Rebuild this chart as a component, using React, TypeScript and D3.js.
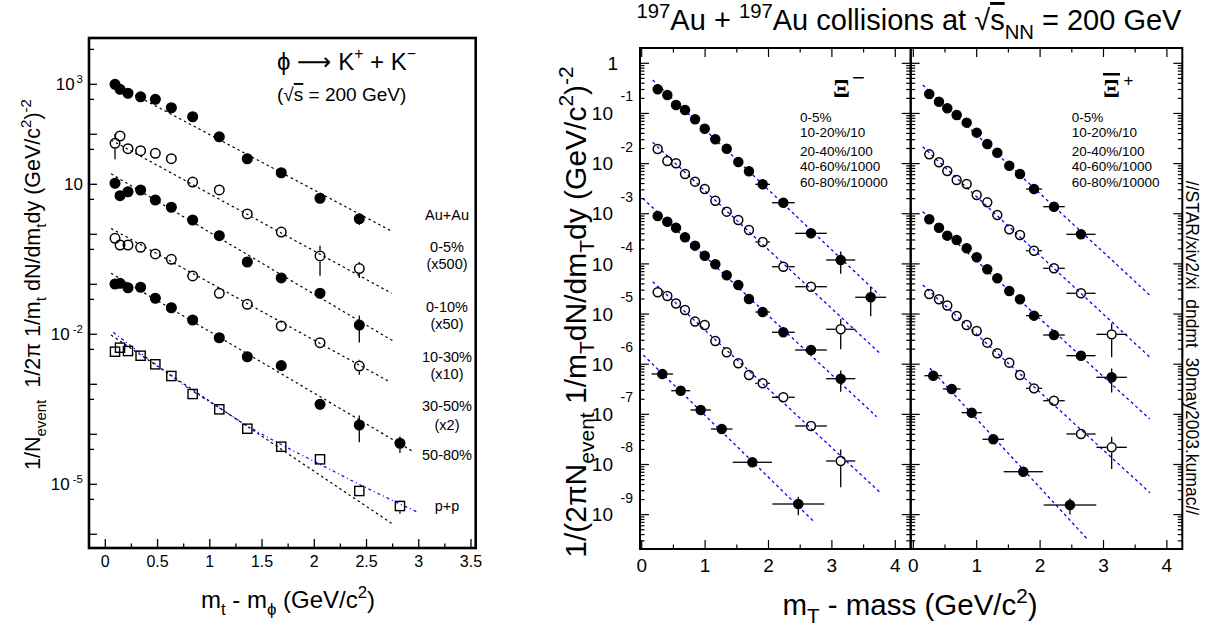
import React from 'react';
import * as d3 from 'd3';

const FONT = "'Liberation Sans', Arial, Helvetica, sans-serif";

// ---------- phi -> K+ K- : mt - m_phi spectra ----------
const phiMt = [0.093, 0.141, 0.217, 0.338, 0.479, 0.632, 0.836, 1.091, 1.359, 1.684, 2.055, 2.431, 2.82];
// Au+Au 0-5% (x500)
const phi0005 = [1000, 794, 661, 562, 501, 339, 224, 89.1, 32.4, 17.0, 5.25, 2.04];
const phi0005Err = [0.03, 0.03, 0.03, 0.03, 0.03, 0.04, 0.04, 0.06, 0.08, 0.1, 0.12, 0.25];
// Au+Au 0-10% (x50)
const phi0010 = [66.1, 92.5, 51.6, 47.1, 41.7, 32.6, 11.1, 7.71, 2.55, 1.11, 0.369, 0.206];
const phi0010Err = [0.52, 0.1, 0.06, 0.05, 0.05, 0.05, 0.06, 0.08, 0.1, 0.15, 0.6, 0.35];
// Au+Au 10-30% (x10)
const phi1030 = [10.5, 5.92, 7.11, 7.69, 4.85, 3.47, 1.93, 0.938, 0.279, 0.134, 0.0661, 0.0153];
const phi1030Err = [0.08, 0.06, 0.05, 0.05, 0.05, 0.05, 0.06, 0.08, 0.1, 0.12, 0.15, 0.55];
// Au+Au 30-50% (x2)
const phi3050 = [0.832, 0.611, 0.611, 0.55, 0.404, 0.316, 0.147, 0.0661, 0.0398, 0.01466, 0.00679, 0.00232];
const phi3050Err = [0.08, 0.06, 0.05, 0.05, 0.05, 0.05, 0.06, 0.08, 0.1, 0.12, 0.15, 0.33];
// Au+Au 50-80%
const phi5080 = [0.1014, 0.1047, 0.0855, 0.0871, 0.0525, 0.034, 0.0193, 0.00855, 0.00356, 0.00236, 0.000398, 0.0001535, 0.0000661];
const phi5080Err = [0.12, 0.06, 0.05, 0.05, 0.05, 0.05, 0.06, 0.08, 0.1, 0.12, 0.23, 0.55, 0.36];
// p+p
const phiPP = [0.00449, 0.0054, 0.00463, 0.00373, 0.00251, 0.001466, 0.00064, 0.000316, 0.0001294, 0.0000565, 0.0000316, 0.00000735, 0.00000368];
const phiPPErr = [0.05, 0.05, 0.05, 0.05, 0.05, 0.05, 0.06, 0.08, 0.1, 0.2, 0.12, 0.12, 0.3];

// exponential fits, [mt - m, yield] end points
const phiFit0005 = [[0.055, 1100], [2.75, 1.127]];
const phiFit0010 = [[0.055, 76.9], [2.74, 0.0661]];
const phiFit1030 = [[0.055, 16.2], [2.75, 0.00745]];
const phiFit3050 = [[0.055, 1.31], [2.72, 0.001127]];
const phiFit5080 = [[0.055, 0.166], [2.95, 0.0000447]];
const phiFitPP = [[0.055, 0.00968], [2.74, 0.00000166]];
// p+p power-law fit, sampled
const phiPowPP = [
  [0.077, 0.01096], [0.48, 0.00251], [0.84, 0.000724], [1.09, 0.000339], [1.36, 0.0001479],
  [1.68, 0.0000631], [2.055, 0.0000251], [2.43, 0.00001], [2.98, 0.00000282],
];

const phiLabels = ['Au+Au', '0-5%', '(x500)', '0-10%', '(x50)', '10-30%', '(x10)', '30-50%', '(x2)', '50-80%', 'p+p'];
const phiLabelY = [220, 252, 268.5, 312, 329, 362, 379, 411, 429.5, 460, 511];

// ---------- Xi- spectra ----------
const xiMMt = [0.252, 0.404, 0.541, 0.683, 0.841, 0.994, 1.161, 1.341, 1.524, 1.692, 1.908, 2.234, 2.67, 3.139, 3.612];
const xiMMtErr = [0.06, 0.06, 0.06, 0.06, 0.06, 0.06, 0.07, 0.07, 0.07, 0.07, 0.116, 0.18, 0.25, 0.23, 0.245];
const xiM0005 = [0.303, 0.233, 0.1476, 0.1172, 0.0764, 0.0497, 0.0305, 0.0198, 0.01076, 0.00702, 0.00386, 0.00166, 0.000407, 0.0001197, 0.0000216];
const xiM0005Err = [0.03, 0.03, 0.03, 0.03, 0.03, 0.03, 0.04, 0.04, 0.05, 0.06, 0.07, 0.1, 0.12, 0.47, 0.58];
const xiM1020 = [0.01954, 0.01127, 0.01014, 0.00621, 0.00436, 0.00311, 0.00182, 0.001099, 0.00075, 0.000474, 0.0002735, 0.0000879, 0.0000351, 0.00000497];
const xiM1020Err = [0.03, 0.03, 0.03, 0.03, 0.03, 0.03, 0.04, 0.04, 0.05, 0.06, 0.07, 0.1, 0.15, 0.6];
const xiM2040 = [0.000902, 0.000695, 0.000527, 0.000339, 0.000231, 0.0001455, 0.0000982, 0.0000593, 0.0000379, 0.00002, 0.00001096, 0.00000433, 0.00000192, 0.000000514];
const xiM2040Err = [0.03, 0.03, 0.03, 0.03, 0.03, 0.03, 0.04, 0.04, 0.05, 0.06, 0.07, 0.1, 0.12, 0.45];
const xiM4060 = [0.0000272, 0.0000229, 0.00001622, 0.00001202, 0.00000708, 0.00000605, 0.0000029, 0.000001726, 0.000001042, 0.00000061, 0.000000416, 0.000000219, 0.0000000586, 0.00000001175];
const xiM4060Err = [0.03, 0.03, 0.03, 0.03, 0.03, 0.03, 0.04, 0.04, 0.05, 0.06, 0.07, 0.1, 0.15, 0.7];
const xiMPeriphMt = [0.325, 0.615, 0.93, 1.262, 1.745, 2.47];
const xiMPeriphMtErr = [0.17, 0.15, 0.16, 0.17, 0.31, 0.41];
const xiM6080 = [0.000000638, 0.000000296, 0.0000001222, 0.000000051, 0.00000001107, 0.00000000163];
const xiM6080Err = [0.05, 0.05, 0.06, 0.08, 0.12, 0.4];
const xiMFits = [
  [[0.173, 0.4645], [3.748, 0.000024]],
  [[0.173, 0.0266], [3.748, 0.000001694]],
  [[0.016, 0.00203], [3.706, 0.0000000897]],
  [[0.173, 0.0000442], [3.748, 0.00000000287]],
  [[0.025, 0.000001524], [2.733, 0.000000000692]],
];

// ---------- anti-Xi+ spectra ----------
const xiPMt = [0.252, 0.405, 0.536, 0.684, 0.842, 1.0, 1.167, 1.325, 1.514, 1.683, 1.904, 2.219, 2.645, 3.129];
const xiPMtErr = [0.06, 0.06, 0.06, 0.06, 0.06, 0.06, 0.07, 0.07, 0.07, 0.07, 0.126, 0.17, 0.23, 0.24];
const xiP0005 = [0.2443, 0.1714, 0.1268, 0.0931, 0.0655, 0.0414, 0.0246, 0.01652, 0.00908, 0.00621, 0.00311, 0.001384, 0.000389];
const xiP0005Err = [0.03, 0.03, 0.03, 0.03, 0.03, 0.03, 0.04, 0.04, 0.05, 0.06, 0.07, 0.1, 0.12];
const xiP1020 = [0.01531, 0.01062, 0.00711, 0.00471, 0.00392, 0.002366, 0.00169, 0.000944, 0.000489, 0.000377, 0.0001832, 0.0000817, 0.00002594, 0.00000394];
const xiP1020Err = [0.03, 0.03, 0.03, 0.03, 0.03, 0.03, 0.04, 0.04, 0.05, 0.06, 0.07, 0.1, 0.12, 0.65];
const xiP2040 = [0.000774, 0.000527, 0.000366, 0.0003, 0.000205, 0.0001355, 0.000078, 0.0000516, 0.00002884, 0.00001968, 0.00000929, 0.00000382, 0.000001479, 0.000000548];
const xiP2040Err = [0.03, 0.03, 0.03, 0.03, 0.03, 0.03, 0.04, 0.04, 0.05, 0.06, 0.07, 0.1, 0.12, 0.5];
const xiP4060 = [0.0000251, 0.00001968, 0.00001479, 0.00000914, 0.00000605, 0.00000459, 0.000002685, 0.000001648, 0.000001072, 0.00000061, 0.00000033, 0.0000001871, 0.0000000406, 0.000000022];
const xiP4060Err = [0.03, 0.03, 0.03, 0.03, 0.03, 0.03, 0.04, 0.04, 0.05, 0.06, 0.07, 0.1, 0.15, 0.63];
const xiPPeriphMt = [0.315, 0.606, 0.921, 1.262, 1.735, 2.471];
const xiPPeriphMtErr = [0.14, 0.14, 0.16, 0.17, 0.31, 0.415];
const xiP6080 = [0.00000059, 0.000000321, 0.0000001079, 0.0000000318, 0.00000000718, 0.000000001556];
const xiP6080Err = [0.05, 0.05, 0.06, 0.08, 0.12, 0.35];
const xiPFits = [
  [[0.148, 0.369], [3.744, 0.0000229]],
  [[0.148, 0.0217], [3.733, 0.000001374]],
  [[0.148, 0.001099], [3.73, 0.0000000807]],
  [[0.148, 0.0000379], [3.733, 0.00000000274]],
  [[0.263, 0.000000828], [2.734, 0.000000000337]],
];

const xiCentLabels = ['0-5%', '10-20%/10', '20-40%/100', '40-60%/1000', '60-80%/10000'];
const xiCentLabelY = [122, 137, 156, 171, 187];

type Seg = [string, string?, boolean?, string?];
type Style = 'dot' | 'ring' | 'box';
interface Series { x: number[]; xe?: number[]; y: number[]; ye: number[]; style: Style }

function rich(segs: Seg[], size: number, ratio = 0.7, up = 0.42, down = 0.28) {
  let cur = 0;
  return segs.map(([t, k, o, fam], i) => {
    const target = k === 'sup' ? -size * up : k === 'sub' ? size * down : 0;
    const dy = target - cur;
    cur = target;
    return (
      <tspan key={i} dy={dy || undefined} fontSize={k ? size * ratio : size} fontFamily={fam}
        style={o ? { textDecoration: 'overline' } : undefined}>{t}</tspan>
    );
  });
}

function Points({ s, xs, ys, r }: { s: Series; xs: any; ys: any; r: number }) {
  const els: any[] = [];
  s.y.forEach((v, i) => {
    const cx = xs(s.x[i]);
    const cy = ys(v);
    const e = s.ye[i];
    const rr = s.style === 'ring' ? r + 0.6 : r;
    const top = ys(v * (1 + e));
    const bot = ys(Math.max(v * (1 - e), v * 0.02));
    if (top < cy - rr) els.push(<line key={'t' + i} x1={cx} x2={cx} y1={top} y2={cy - rr} />);
    if (bot > cy + rr) els.push(<line key={'b' + i} x1={cx} x2={cx} y1={cy + rr} y2={bot} />);
    if (s.xe) {
      const lx = xs(s.x[i] - s.xe[i]);
      const rx = xs(s.x[i] + s.xe[i]);
      if (lx < cx - rr) els.push(<line key={'l' + i} x1={lx} x2={cx - rr} y1={cy} y2={cy} />);
      if (rx > cx + rr) els.push(<line key={'r' + i} x1={cx + rr} x2={rx} y1={cy} y2={cy} />);
    }
    if (s.style === 'dot') els.push(<circle key={'m' + i} cx={cx} cy={cy} r={r} fill="#000" />);
    else if (s.style === 'ring') els.push(<circle key={'m' + i} cx={cx} cy={cy} r={rr - 0.75} fill="none" stroke="#000" strokeWidth={1.5} />);
    else els.push(<rect key={'m' + i} x={cx - r + 0.7} y={cy - r + 0.7} width={2 * r - 1.4} height={2 * r - 1.4} fill="none" stroke="#000" strokeWidth={1.4} />);
  });
  return <g stroke="#000" strokeWidth={1.3}>{els}</g>;
}

// one Xi panel: frame, ticks on four sides, spectra and fits
function XiPanel({ left, right, xDom, ys, series, fits, yLabels }: any) {
  const top = 48;
  const bottom = 549;
  const xs = d3.scaleLinear().domain(xDom).range([left, right]);
  const ticks: any[] = [];
  // log ticks on left and right edges
  for (let k = -10; k <= 0; k++) {
    for (let m = 1; m <= 9; m++) {
      const v = m * 10 ** k;
      const yy = ys(v);
      if (yy < top + 0.5 || yy > bottom - 0.5) continue;
      const len = m === 1 ? 9 : 4.5;
      ticks.push(<line key={'yl' + k + m} x1={left} x2={left + len} y1={yy} y2={yy} />);
      ticks.push(<line key={'yr' + k + m} x1={right} x2={right - len} y1={yy} y2={yy} />);
    }
  }
  // linear ticks on top and bottom edges
  for (let i = 0; i <= 8; i++) {
    const v = i * 0.5;
    const xx = xs(v);
    if (xx < left + 0.5 || xx > right - 0.5) continue;
    const len = i % 2 === 0 ? 9 : 4.5;
    ticks.push(<line key={'xb' + i} x1={xx} x2={xx} y1={bottom} y2={bottom - len} />);
    ticks.push(<line key={'xt' + i} x1={xx} x2={xx} y1={top} y2={top + len} />);
  }
  const line = d3.line<number[]>().x((d) => xs(d[0])).y((d) => ys(d[1]));
  return (
    <g>
      <g stroke="#0000ff" strokeWidth={1.3} strokeDasharray="3,3" fill="none">
        {fits.map((f: number[][], i: number) => <path key={i} d={line(f) || ''} />)}
      </g>
      {series.map((s: Series, i: number) => <Points key={i} s={s} xs={xs} ys={ys} r={4.6} />)}
      <g stroke="#000" strokeWidth={1.2}>{ticks}</g>
      <rect x={left} y={top} width={right - left} height={bottom - top} fill="none" stroke="#000" strokeWidth={2} />
      <g fontSize={19} textAnchor="middle">
        {[0, 1, 2, 3, 4].map((v) => <text key={v} x={xs(v)} y={571.5}>{v}</text>)}
      </g>
      {yLabels && (
        <g fontSize={19}>
          {d3.range(-9, 1).map((k) => {
            const yy = ys(10 ** k);
            if (k === 0) return <text key={k} x={618} y={yy + 6.7} textAnchor="end">1</text>;
            return (
              <g key={k}>
                <text x={613} y={yy + 6.7} textAnchor="end">10</text>
                <text x={620.5} y={yy - 12} fontSize={14}>{String(k)}</text>
              </g>
            );
          })}
        </g>
      )}
    </g>
  );
}

export default function App() {
  // ---- phi panel scales ----
  const xL = d3.scaleLinear().domain([-0.156, 3.545]).range([89, 475.7]);
  const yL = d3.scaleLog().domain([10 ** -6.274, 10 ** 3.926]).range([548, 38]);
  const lineL = d3.line<number[]>().x((d) => xL(d[0])).y((d) => yL(d[1]));
  const curveL = d3.line<number[]>().x((d) => xL(d[0])).y((d) => yL(d[1])).curve(d3.curveMonotoneX);

  const phiSeries: Series[] = [
    { x: phiMt, y: phi0005, ye: phi0005Err, style: 'dot' },
    { x: phiMt, y: phi0010, ye: phi0010Err, style: 'ring' },
    { x: phiMt, y: phi1030, ye: phi1030Err, style: 'dot' },
    { x: phiMt, y: phi3050, ye: phi3050Err, style: 'ring' },
    { x: phiMt, y: phi5080, ye: phi5080Err, style: 'dot' },
  ];
  const ppSeries: Series = { x: phiMt, y: phiPP, ye: phiPPErr, style: 'box' };

  const lTicks: any[] = [];
  for (let k = -7; k <= 4; k++) {
    [1, 5].forEach((m) => {
      const v = m * 10 ** k;
      const yy = yL(v);
      if (yy < 38.5 || yy > 547.5) return;
      lTicks.push(<line key={'y' + k + m} x1={89} x2={89 + (m === 1 ? 8 : 5)} y1={yy} y2={yy} />);
    });
  }
  for (let i = 0; i <= 14; i++) {
    const xx = xL(i * 0.25);
    lTicks.push(<line key={'x' + i} x1={xx} x2={xx} y1={548} y2={548 - (i % 2 === 0 ? 9 : 4.5)} />);
  }

  // ---- Xi panel scale ----
  const yR = d3.scaleLog().domain([10 ** -9.685, 10 ** 0.305]).range([549, 48]);

  const xiMSeries: Series[] = [
    { x: xiMMt, xe: xiMMtErr, y: xiM0005, ye: xiM0005Err, style: 'dot' },
    { x: xiMMt, xe: xiMMtErr, y: xiM1020, ye: xiM1020Err, style: 'ring' },
    { x: xiMMt, xe: xiMMtErr, y: xiM2040, ye: xiM2040Err, style: 'dot' },
    { x: xiMMt, xe: xiMMtErr, y: xiM4060, ye: xiM4060Err, style: 'ring' },
    { x: xiMPeriphMt, xe: xiMPeriphMtErr, y: xiM6080, ye: xiM6080Err, style: 'dot' },
  ];
  const xiPSeries: Series[] = [
    { x: xiPMt, xe: xiPMtErr, y: xiP0005, ye: xiP0005Err, style: 'dot' },
    { x: xiPMt, xe: xiPMtErr, y: xiP1020, ye: xiP1020Err, style: 'ring' },
    { x: xiPMt, xe: xiPMtErr, y: xiP2040, ye: xiP2040Err, style: 'dot' },
    { x: xiPMt, xe: xiPMtErr, y: xiP4060, ye: xiP4060Err, style: 'ring' },
    { x: xiPPeriphMt, xe: xiPPeriphMtErr, y: xiP6080, ye: xiP6080Err, style: 'dot' },
  ];

  return (
    <svg width={1206} height={626} style={{ position: 'absolute', left: 0, top: 0 }} fontFamily={FONT}>
      <rect width={1206} height={626} fill="#fff" />

      {/* ===== phi panel ===== */}
      <g stroke="#000" strokeWidth={1.2} strokeDasharray="2.5,3" fill="none">
        {[phiFit0005, phiFit0010, phiFit1030, phiFit3050, phiFit5080, phiFitPP].map((f, i) => (
          <path key={i} d={lineL(f) || ''} />
        ))}
      </g>
      <path d={curveL(phiPowPP) || ''} stroke="#0000ff" strokeWidth={1.2} strokeDasharray="3,3,1,3" fill="none" />
      {phiSeries.map((s, i) => <Points key={i} s={s} xs={xL} ys={yL} r={4.9} />)}
      <Points s={ppSeries} xs={xL} ys={yL} r={5.3} />
      <g stroke="#000" strokeWidth={1.3}>{lTicks}</g>
      <rect x={89} y={38} width={475.7 - 89} height={510} fill="none" stroke="#000" strokeWidth={2.6} />

      <g fontSize={16} textAnchor="middle">
        {['0', '0.5', '1', '1.5', '2', '2.5', '3', '3.5'].map((t) => (
          <text key={t} x={xL(+t)} y={566.7}>{t}</text>
        ))}
      </g>
      <g fontSize={17}>
        {[3, 1, -2, -5].map((k) => (
          <text key={k} x={83} y={yL(10 ** k) + 6} textAnchor="end" style={{ whiteSpace: 'pre' }}>
            <tspan>10</tspan>
            {k !== 1 && <tspan dx={k > 0 ? 2 : 3} dy={-7.5} fontSize={11.5}>{String(k)}</tspan>}
          </text>
        ))}
      </g>

      <text x={277} y={69.5} fontSize={24} style={{ whiteSpace: 'pre' }}>
        {rich([['ϕ '], ['⟶', '', false, "'DejaVu Sans', sans-serif"], [' K'], ['+', 'sup'], [' + K'], ['−', 'sup']], 24, 0.65, 0.45)}
      </text>
      <text x={277} y={101} fontSize={19} style={{ whiteSpace: 'pre' }}>
        {rich([['(√'], ['s', '', true], [' = 200 GeV)']], 19)}
      </text>

      <g fontSize={14.5} textAnchor="middle">
        {phiLabels.map((t, i) => <text key={t} x={447} y={phiLabelY[i]}>{t}</text>)}
      </g>

      <text x={288} y={608} fontSize={24} textAnchor="middle" style={{ whiteSpace: 'pre' }}>
        {rich([['m'], ['t', 'sub'], [' - m'], ['ϕ', 'sub'], [' (GeV/c'], ['2', 'sup'], [')']], 24)}
      </text>
      <text transform="translate(40,284.5) rotate(-90)" fontSize={21.5} textAnchor="middle" style={{ whiteSpace: 'pre' }}>
        {rich([['1/N'], ['event', 'sub'], ['  1/2π 1/m'], ['t', 'sub'], [' dN/dm'], ['t', 'sub'], ['dy (GeV/c'], ['2', 'sup'], [')'], ['-2', 'sup']], 21.5)}
      </text>

      {/* ===== Xi panels ===== */}
      <XiPanel left={640} right={910.7} xDom={[-0.027, 4.243]} ys={yR} series={xiMSeries} fits={xiMFits} yLabels />
      <XiPanel left={910.7} right={1182.3} xDom={[-0.041, 4.243]} ys={yR} series={xiPSeries} fits={xiPFits} />

      <text x={833} y={97} fontSize={25} fontWeight="bold" fontFamily="'Liberation Serif', 'DejaVu Serif', serif">Ξ</text>
      <text x={852} y={85} fontSize={22}>−</text>
      <text x={1103} y={97} fontSize={25} fontWeight="bold" fontFamily="'Liberation Serif', 'DejaVu Serif', serif"
        style={{ textDecoration: 'overline' }}>Ξ</text>
      <text x={1123.5} y={86} fontSize={17}>+</text>

      <g fontSize={13.5}>
        {xiCentLabels.map((t, i) => <text key={'m' + t} x={800} y={xiCentLabelY[i]}>{t}</text>)}
        {xiCentLabels.map((t, i) => <text key={'p' + t} x={1071.7} y={xiCentLabelY[i]}>{t}</text>)}
      </g>

      <text x={909} y={30} fontSize={29} textAnchor="middle" style={{ whiteSpace: 'pre' }}>
        {rich([['197', 'sup'], ['Au + '], ['197', 'sup'], ['Au collisions at √'], ['s', '', true], ['NN', 'sub'], [' = 200 GeV']], 29, 0.7, 0.4, 0.3)}
      </text>
      <text x={910} y={615} fontSize={29.5} textAnchor="middle" style={{ whiteSpace: 'pre' }}>
        {rich([['m'], ['T', 'sub'], [' - mass (GeV/c'], ['2', 'sup'], [')']], 29.5)}
      </text>
      <text transform="translate(586,312) rotate(-90)" fontSize={30} textAnchor="middle" style={{ whiteSpace: 'pre' }}>
        {rich([['1/(2πN'], ['event', 'sub'], [' 1/m'], ['T', 'sub'], ['dN/dm'], ['T', 'sub'], ['dy (GeV/c'], ['2', 'sup'], [')'], ['-2', 'sup']], 30)}
      </text>
      <text transform="translate(1186,348) rotate(90)" fontSize={17.5} textAnchor="middle">
        //STAR/xiv2/xi_dndmt_30may2003.kumac//
      </text>
    </svg>
  );
}
